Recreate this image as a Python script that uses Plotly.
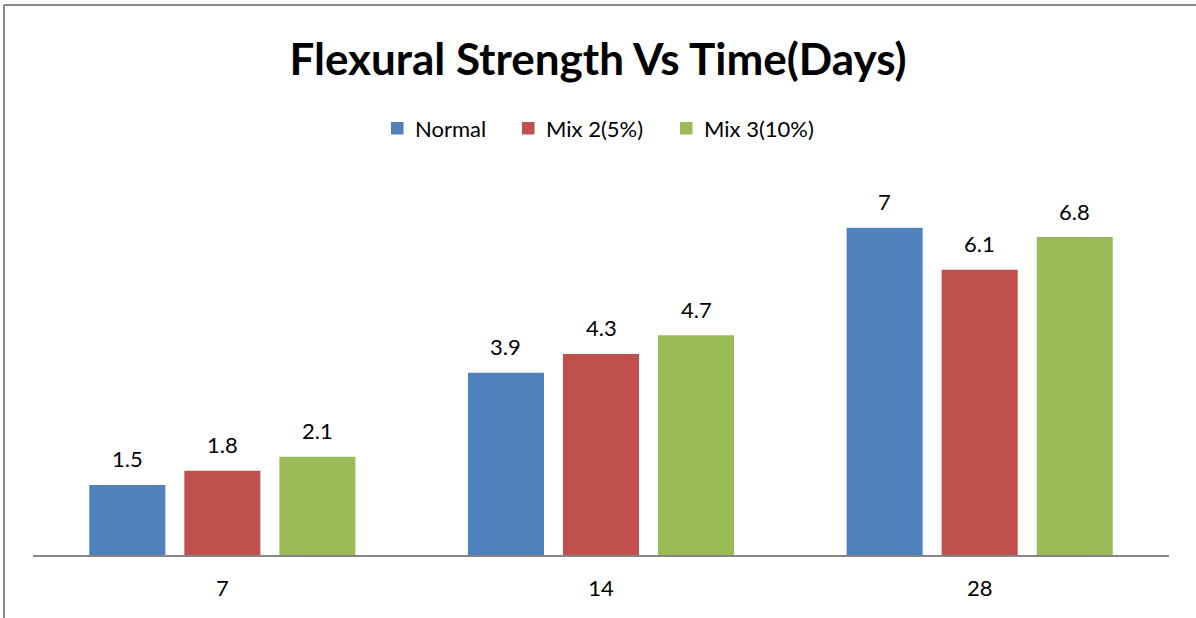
import plotly.graph_objects as go

# Curing age (days) and flexural strength results
days = ["7", "14", "28"]
normal = [1.5, 3.9, 7]
mix2 = [1.8, 4.3, 6.1]
mix3 = [2.1, 4.7, 6.8]

series = [
    ("Normal", normal, "#4F81BD"),
    ("Mix 2(5%)", mix2, "#C0504D"),
    ("Mix 3(10%)", mix3, "#9BBB59"),
]

FONT = "Lato"
TXT = 22

W, H = 1196, 618
ml, mr, mt, mb = 33, 27, 181, 63
pw, ph = W - ml - mr, H - mt - mb
BARGAP, GROUPGAP = 0.247, 0.2
slot_px = (1 - BARGAP) * pw / len(days) / len(series)


def px_x(p):
    return (p - ml) / pw


def px_y(p):
    return (H - mb - p) / ph


fig = go.Figure()
annotations = []
shapes = []
for k, (name, vals, color) in enumerate(series):
    fig.add_trace(go.Bar(
        x=days, y=vals, name=name, showlegend=False,
        marker=dict(color=color, line=dict(width=0)),
    ))
    # value labels sit above each bar, shifted sideways to its slot in the group
    # (category index is used so the numeric-looking day names are not read as values)
    for i, v in enumerate(vals):
        annotations.append(dict(
            x=i, y=v, xref="x", yref="y", text=f"{v:g}",
            showarrow=False, xanchor="center", yanchor="middle",
            xshift=(k - (len(series) - 1) / 2) * slot_px, yshift=26,
            font=dict(family=FONT, size=TXT, color="#000000"),
        ))

# legend row: colour square followed by the series name
legend_left = [391, 522, 680]
legend_mid = 128
for (name, vals, color), x0 in zip(series, legend_left):
    shapes.append(dict(
        type="rect", xref="paper", yref="paper",
        x0=px_x(x0), x1=px_x(x0 + 12.5),
        y0=px_y(legend_mid + 6.5), y1=px_y(legend_mid - 6),
        fillcolor=color, line=dict(width=0),
    ))
    annotations.append(dict(
        x=px_x(x0 + 22), y=px_y(legend_mid), xref="paper", yref="paper",
        text=name, showarrow=False, xanchor="left", yanchor="middle",
        font=dict(family=FONT, size=TXT, color="#000000"),
    ))

# outer frame lines (left and top)
shapes += [
    dict(type="line", xref="paper", yref="paper",
         x0=px_x(4), x1=px_x(4), y0=px_y(5), y1=px_y(H + 5),
         line=dict(color="#868686", width=2)),
    dict(type="line", xref="paper", yref="paper",
         x0=px_x(4), x1=px_x(W + 5), y0=px_y(5), y1=px_y(5),
         line=dict(color="#868686", width=2)),
]

fig.update_layout(
    width=W, height=H,
    margin=dict(l=ml, r=mr, t=mt, b=mb, pad=0),
    paper_bgcolor="white", plot_bgcolor="white",
    barmode="group", bargap=BARGAP, bargroupgap=GROUPGAP,
    showlegend=False,
    title=dict(
        text="<b>Flexural Strength Vs Time(Days)</b>",
        x=0.5, xanchor="center", y=1 - 60 / H, yanchor="middle",
        font=dict(family=FONT, size=44, color="#000000"),
    ),
    xaxis=dict(
        type="category", range=[-0.5, len(days) - 0.5],
        showline=True, linecolor="#868686", linewidth=2,
        ticks="", showgrid=False,
        tickfont=dict(family=FONT, size=TXT, color="#000000"),
        ticklabelstandoff=13,
    ),
    yaxis=dict(
        range=[0, 8], visible=False, showgrid=False, zeroline=False,
    ),
    annotations=annotations,
    shapes=shapes,
)

fig.write_html("out.html")
